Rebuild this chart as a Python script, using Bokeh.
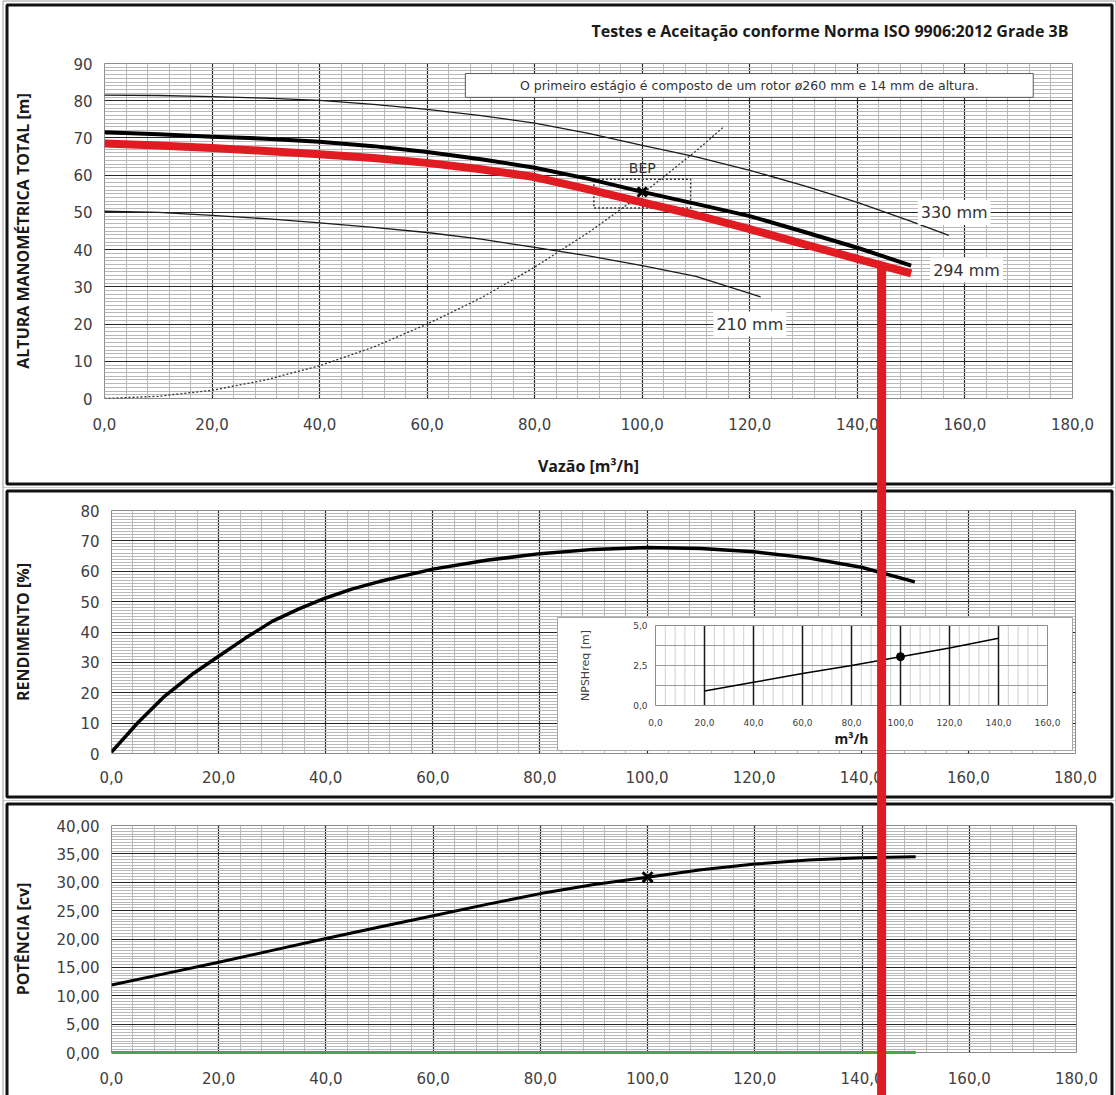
import math
from bokeh.plotting import figure
from bokeh.models import Range1d, FixedTicker, Label, CustomJSTickFormatter, Plot
from bokeh.layouts import column
from bokeh.embed import file_html
from bokeh.resources import INLINE
from bokeh.core.properties import value

# ---------------- data ----------------
Q_TICKS = [0, 20, 40, 60, 80, 100, 120, 140, 160, 180]
H_TICKS = [0, 10, 20, 30, 40, 50, 60, 70, 80, 90]
EFF_TICKS = [0, 10, 20, 30, 40, 50, 60, 70, 80]
POW_TICKS = [0, 5, 10, 15, 20, 25, 30, 35, 40]
NPSH_Q_TICKS = [0, 20, 40, 60, 80, 100, 120, 140, 160]
NPSH_TICKS = [0, 2.5, 5]

# head curves [m] vs flow [m3/h]
Q_330 = [0, 10, 20, 30, 40, 50, 60, 70, 80, 90, 100, 110, 120, 130, 140, 150, 157]
H_330 = [81.5, 81.4, 81.1, 80.7, 80.1, 79.0, 77.7, 76.0, 74.0, 71.2, 68.0, 64.9, 61.3, 57.2, 52.7, 47.6, 43.8]

Q_294 = [0, 10, 20, 30, 40, 50, 60, 70, 80, 90, 100, 110, 120, 130, 140, 150]
H_294 = [71.5, 71.0, 70.3, 69.8, 69.0, 67.8, 66.2, 64.3, 62.0, 59.0, 55.5, 52.3, 49.0, 44.8, 40.5, 35.7]

Q_TEST = [0, 10, 20, 30, 40, 50, 60, 70, 80, 90, 100, 110, 120, 130, 140, 150]
H_TEST = [68.5, 68.0, 67.3, 66.5, 65.6, 64.6, 63.3, 61.6, 59.5, 56.2, 52.7, 49.3, 45.5, 41.5, 37.5, 33.6]

Q_210 = [0, 10, 20, 30, 40, 50, 60, 70, 80, 90, 100, 110, 122]
H_210 = [50.3, 50.0, 49.2, 48.3, 47.2, 46.0, 44.6, 42.8, 40.6, 38.3, 35.7, 32.8, 27.3]

Q_SYS = [0, 10, 20, 30, 40, 50, 60, 70, 80, 90, 100, 110, 115]
H_SYS = [0, 0.6, 2.2, 5.0, 8.8, 13.8, 20.0, 27.0, 35.3, 44.6, 55.0, 66.5, 72.8]

Q_BEP, H_BEP = 100, 55.5
TOL_Q = [91, 109]
TOL_H = [51.2, 58.9]
Q_OP, H_OP = 144.5, 35.5

CURVE_LABELS = ["330 mm", "294 mm", "210 mm"]
CURVE_LABEL_Q = [158, 160.3, 120]
CURVE_LABEL_H = [50, 34.5, 20]

# efficiency [%]
Q_EFF = [0, 5, 10, 15, 20, 25, 30, 35, 40, 45, 50, 60, 70, 80, 90, 100, 110, 120, 130, 140, 150]
EFF = [0.5, 10.3, 19, 26, 32, 38, 43.5, 47.6, 51.2, 54.2, 56.6, 60.7, 63.6, 65.8, 67.2, 67.8,
       67.5, 66.4, 64.4, 61.3, 56.5]

# power [cv]
Q_POW = [0, 10, 20, 30, 40, 50, 60, 70, 80, 90, 100, 110, 120, 130, 140, 150]
POW = [11.9, 13.9, 15.9, 18.0, 20.1, 22.1, 24.1, 26.1, 28.0, 29.6, 30.9, 32.2, 33.2, 33.9, 34.3, 34.5]
POW_BEP = 30.9
Q_GREEN = [0, 150]
P_GREEN = [0, 0]

# NPSH required [m]
Q_NPSH = [20, 40, 60, 80, 100, 120, 140]
NPSH = [0.9, 1.45, 2.0, 2.5, 3.05, 3.6, 4.2]
NPSH_BEP = 3.05

TITLE = "Testes e Aceitação conforme Norma ISO 9906:2012 Grade 3B"
NOTE = "O primeiro estágio é composto de um rotor ø260 mm e 14 mm de altura."
Y_TITLES = ["ALTURA MANOMÉTRICA TOTAL [m]", "RENDIMENTO [%]", "POTÊNCIA [cv]"]

# ---------------- layout (page pixels) ----------------
FRAME_ALIGN_OK = "frame_align" in Plot.properties()
PAGE_W = 1116
P1_LEFT = 104 if FRAME_ALIGN_OK else 111
# (top, height) of each figure slot, frame (l, t, r, b), black border box (l, t, r, b)
P1_SLOT, P1_FRAME, P1_BORDER = (0, 487), (P1_LEFT, 63, 1072, 398), (6.5, 4.5, 1111.5, 483.5)
P2_SLOT, P2_FRAME, P2_BORDER = (487, 313), (111, 510, 1075, 753), (6.5, 490.5, 1111.5, 796.5)
P3_SLOT, P3_FRAME, P3_BORDER = (800, 295), (111, 825, 1076, 1052), (6.5, 803.5, 1111.5, 1110)
IN_BOX, IN_FRAME = (557, 617, 1072, 750), (655, 625, 1047, 705)
TITLE_RIGHT, TITLE_MID = 1068, 30
YTITLE_X = 22

TICK_FONT = "DejaVu Sans"
BOLD_FONT = "Open Sans"
RED = "#e11b22"


def comma_fmt(d):
    return CustomJSTickFormatter(code=f"return tick.toFixed({d}).replace('.', ',');")


def px2x(frame, xr, px):
    fl, ft, fr, fb = frame
    return xr[0] + (px - fl) * (xr[1] - xr[0]) / (fr - fl)


def px2y(frame, yr, py):
    fl, ft, fr, fb = frame
    return yr[0] + (fb - py) * (yr[1] - yr[0]) / (fb - ft)


def panel(slot, frame, xr, yr, xt, xminor, yt, yminor, xd, yd, ytitle):
    top, h = slot
    fl, ft, fr, fb = frame
    kw = {"frame_align": False} if FRAME_ALIGN_OK else {}
    p = figure(width=PAGE_W, height=h, x_range=Range1d(*xr), y_range=Range1d(*yr),
               title=None, toolbar_location=None, output_backend="svg",
               min_border_left=fl, min_border_right=PAGE_W - fr,
               min_border_top=ft - top, min_border_bottom=top + h - fb,
               background_fill_color="white", border_fill_color="white",
               outline_line_color="#8c8c8c", outline_line_width=1, **kw)
    xtk = FixedTicker(ticks=xt, minor_ticks=xminor)
    ytk = FixedTicker(ticks=yt, minor_ticks=yminor)
    p.xaxis.ticker = xtk
    p.xgrid.ticker = xtk
    p.yaxis.ticker = ytk
    p.ygrid.ticker = ytk
    p.xaxis.formatter = comma_fmt(xd)
    p.yaxis.formatter = comma_fmt(yd)
    for ax in p.axis:
        ax.axis_line_color = None
        ax.major_tick_line_color = None
        ax.minor_tick_line_color = None
        ax.major_tick_out = 0
        ax.major_tick_in = 0
        ax.minor_tick_out = 0
        ax.minor_tick_in = 0
        ax.major_label_text_font = TICK_FONT
        ax.major_label_text_font_size = "15px"
        ax.major_label_text_color = "#404040"
        ax.axis_label_text_font = BOLD_FONT
        ax.axis_label_text_font_style = "bold"
        ax.axis_label_text_font_size = "16px"
        ax.axis_label_text_color = "#1a1a1a"
        ax.major_label_standoff = 12
    for g in p.grid:
        g.grid_line_color = "#262626"
        g.grid_line_width = 1.2
        g.minor_grid_line_color = "#b8b8b8"
        g.minor_grid_line_width = 1
    # vertical axis title (drawn as text so it sits where the reference has it)
    p.text(x=[px2x(frame, xr, YTITLE_X)], y=[(yr[0] + yr[1]) / 2], text=[ytitle],
           angle=math.pi / 2, text_align="center", text_baseline="middle",
           text_font=value(BOLD_FONT), text_font_style="bold", text_font_size="16px",
           text_color="#1a1a1a", level="overlay")
    return p


def panel_border(p, frame, xr, yr, border):
    l, t, r, b = border
    p.quad(left=[px2x(frame, xr, l - 4)], right=[px2x(frame, xr, r + 4)],
           top=[px2y(frame, yr, t - 4)], bottom=[px2y(frame, yr, b + 4)],
           fill_color=None, line_color="#9a9a9a", line_width=1, level="overlay")
    p.quad(left=[px2x(frame, xr, l)], right=[px2x(frame, xr, r)],
           top=[px2y(frame, yr, t)], bottom=[px2y(frame, yr, b)],
           fill_color=None, line_color="#111111", line_width=3, level="overlay")


XR = (0, 180)
page_x_op = P1_FRAME[0] + Q_OP * (P1_FRAME[2] - P1_FRAME[0]) / 180.0

# ---------------- panel 1 : head ----------------
YR1 = (0, 90)
p1 = panel(P1_SLOT, P1_FRAME, XR, YR1, Q_TICKS, list(range(0, 181, 4)),
           H_TICKS, list(range(0, 91)), 1, 0, Y_TITLES[0])
p1.xaxis.major_label_standoff = 19
p1.xaxis.axis_label = "Vazão [m³/h]"
p1.xaxis.axis_label_standoff = 22
p1.text(x=[px2x(P1_FRAME, XR, TITLE_RIGHT)], y=[px2y(P1_FRAME, YR1, TITLE_MID)], text=[TITLE],
        text_align="right", text_baseline="middle", text_font=value(BOLD_FONT),
        text_font_style="bold", text_font_size="16px", text_color="#1a1a1a", level="overlay")

NOTE_X0, NOTE_X1, NOTE_Y0, NOTE_Y1 = 67.1, 172.7, 80.9, 87.3
p1.quad(left=[NOTE_X0], right=[NOTE_X1], bottom=[NOTE_Y0], top=[NOTE_Y1],
        fill_color="white", line_color="#595959", line_width=1)
p1.add_layout(Label(x=(NOTE_X0 + NOTE_X1) / 2, y=(NOTE_Y0 + NOTE_Y1) / 2, text=NOTE,
                    text_align="center", text_baseline="middle", text_font=TICK_FONT,
                    text_font_size="12.5px", text_color="#333333"))

p1.line(Q_330, H_330, line_color="#1a1a1a", line_width=1.3)
p1.line(Q_210, H_210, line_color="#1a1a1a", line_width=1.3)
p1.line(Q_SYS, H_SYS, line_color="#333333", line_width=1.3, line_dash="2 2")
p1.quad(left=[TOL_Q[0]], right=[TOL_Q[1]], bottom=[TOL_H[0]], top=[TOL_H[1]],
        fill_color=None, line_color="#333333", line_width=1.5, line_dash="2 2")
p1.line(Q_TEST, H_TEST, line_color=RED, line_width=8, line_join="round")
p1.line(Q_294, H_294, line_color="#000000", line_width=4, line_join="round")
p1.scatter([Q_BEP], [H_BEP], marker="x", size=13, line_width=3, color="#000000")
p1.add_layout(Label(x=Q_BEP, y=H_BEP + 6.5, text="BEP", text_align="center",
                    text_baseline="middle", text_font=TICK_FONT, text_font_size="14px",
                    text_color="#333333"))
for t, q, h in zip(CURVE_LABELS, CURVE_LABEL_Q, CURVE_LABEL_H):
    p1.add_layout(Label(x=q, y=h, text=t, text_align="center", text_baseline="middle",
                        text_font=TICK_FONT, text_font_size="16px", text_color="#333333",
                        background_fill_color="white", padding=3))
panel_border(p1, P1_FRAME, XR, YR1, P1_BORDER)
p1.segment(x0=[Q_OP], y0=[H_OP], x1=[Q_OP], y1=[-500], line_color=RED, line_width=9,
           level="overlay")

# ---------------- panel 2 : efficiency (+ NPSH inset) ----------------
YR2 = (0, 80)
p2 = panel(P2_SLOT, P2_FRAME, XR, YR2, Q_TICKS, list(range(0, 181, 4)),
           EFF_TICKS, list(range(0, 81)), 1, 0, Y_TITLES[1])
p2.xaxis.major_label_standoff = 17
p2.line(Q_EFF, EFF, line_color="#000000", line_width=3.5, line_join="round")

# inset scales: extra ranges mapping the inset frame onto panel 2
fl, ft, fr, fb = P2_FRAME
il, it, ir, ib = IN_FRAME
sx = (ir - il) / 160.0
sy = (ib - it) / 5.0
p2.extra_x_ranges = {"ix": Range1d(-(il - fl) / sx, 160 + (fr - ir) / sx)}
p2.extra_y_ranges = {"iy": Range1d(-(fb - ib) / sy, 5 + (it - ft) / sy)}
bl_, bt_, br_, bb_ = IN_BOX
ikw = dict(x_range_name="ix", y_range_name="iy")
p2.quad(left=[(bl_ - il) / sx], right=[(br_ - il) / sx], top=[(ib - bt_) / sy],
        bottom=[(ib - bb_) / sy], fill_color="white", line_color="#a6a6a6", line_width=1, **ikw)
minor_x = [v for v in range(0, 161, 4) if v % 20]
p2.segment(x0=minor_x, x1=minor_x, y0=[0] * len(minor_x), y1=[5] * len(minor_x),
           line_color="#cfcfcf", line_width=1, **ikw)
hy = [1.25, 2.5, 3.75]
p2.segment(x0=[0] * 3, x1=[160] * 3, y0=hy, y1=hy, line_color="#9a9a9a", line_width=1, **ikw)
major_x = NPSH_Q_TICKS[1:-1]
p2.segment(x0=major_x, x1=major_x, y0=[0] * len(major_x), y1=[5] * len(major_x),
           line_color="#1a1a1a", line_width=1.5, **ikw)
p2.quad(left=[0], right=[160], bottom=[0], top=[5], fill_color=None,
        line_color="#8c8c8c", line_width=1, **ikw)
p2.line(Q_NPSH, NPSH, line_color="#000000", line_width=1.5, **ikw)
p2.scatter([Q_BEP], [NPSH_BEP], size=8, color="#000000", **ikw)
p2.text(x=NPSH_Q_TICKS, y=[-17 / sy] * len(NPSH_Q_TICKS),
        text=[f"{v:.1f}".replace(".", ",") for v in NPSH_Q_TICKS],
        text_align="center", text_baseline="middle", text_font=value(TICK_FONT),
        text_font_size="9px", text_color="#404040", **ikw)
p2.text(x=[-8 / sx] * 3, y=NPSH_TICKS, text=[f"{v:.1f}".replace(".", ",") for v in NPSH_TICKS],
        text_align="right", text_baseline="middle", text_font=value(TICK_FONT),
        text_font_size="9px", text_color="#404040", **ikw)
p2.text(x=[-70 / sx], y=[2.5], text=["NPSHreq [m]"], angle=math.pi / 2,
        text_align="center", text_baseline="middle", text_font=value(TICK_FONT),
        text_font_size="11px", text_color="#404040", **ikw)
p2.text(x=[80], y=[-33 / sy], text=["m³/h"], text_align="center", text_baseline="middle",
        text_font=value(BOLD_FONT), text_font_style="bold", text_font_size="14px",
        text_color="#1a1a1a", **ikw)
panel_border(p2, P2_FRAME, XR, YR2, P2_BORDER)
q2 = px2x(P2_FRAME, XR, page_x_op)
p2.segment(x0=[q2], y0=[-500], x1=[q2], y1=[500], line_color=RED, line_width=9,
           level="overlay")

# ---------------- panel 3 : power ----------------
YR3 = (0, 40)
p3 = panel(P3_SLOT, P3_FRAME, XR, YR3, Q_TICKS, list(range(0, 181, 4)),
           POW_TICKS, [i * 0.5 for i in range(81)], 1, 2, Y_TITLES[2])
p3.xaxis.major_label_standoff = 19
p3.line(Q_POW, POW, line_color="#000000", line_width=3, line_join="round")
p3.scatter([Q_BEP], [POW_BEP], marker="x", size=14, line_width=3, color="#000000")
p3.line(Q_GREEN, P_GREEN, line_color="#45a845", line_width=3, level="overlay")
panel_border(p3, P3_FRAME, XR, YR3, P3_BORDER)
q3 = px2x(P3_FRAME, XR, page_x_op)
p3.segment(x0=[q3], y0=[-500], x1=[q3], y1=[500], line_color=RED, line_width=9,
           level="overlay")

layout = column(p1, p2, p3, spacing=0)
open("out.html", "w").write(file_html(layout, INLINE))
